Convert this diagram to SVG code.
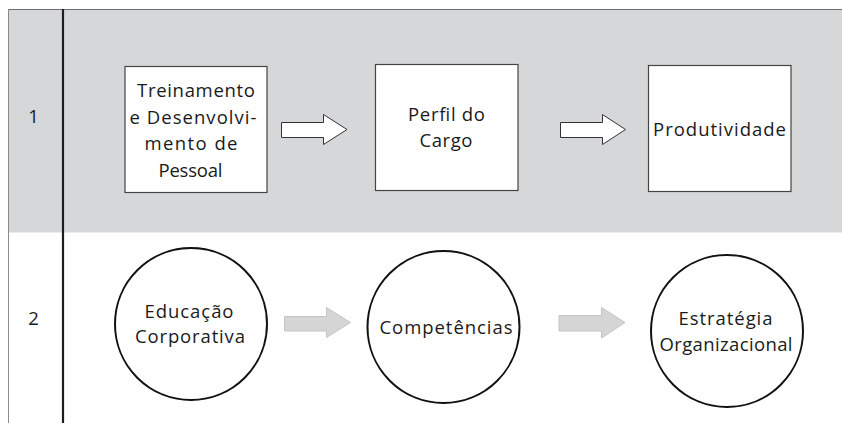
<svg xmlns="http://www.w3.org/2000/svg" width="842" height="423" viewBox="0 0 842 423">
<style>
text{font-family:"Open Sans","Liberation Sans",sans-serif;font-size:18.5px;fill:#1a1a1a;text-anchor:middle;}
.box{fill:#fff;stroke:#444;stroke-width:1.2;}
.circ{fill:#fff;stroke:#111;stroke-width:2;}
.harrow{fill:#fff;stroke:#333;stroke-width:1;}
.garrow{fill:#d5d5d5;stroke:#c4c4c4;stroke-width:1;}
</style>
<g id="lanes">
<rect x="8.5" y="9.5" width="834" height="223" fill="#d6d7d9"/>
<line x1="8" y1="9.5" x2="842" y2="9.5" stroke="#6e6e6e" stroke-width="1.2"/>
<line x1="8.5" y1="9" x2="8.5" y2="423" stroke="#8a8a8a" stroke-width="1"/>
<line x1="63" y1="9" x2="63" y2="423" stroke="#1e1e1e" stroke-width="2.2"/>
<text x="33.5" y="123">1</text>
<text x="33.5" y="325">2</text>
</g>
<g id="n1">
<rect class="box" x="125" y="66.5" width="142" height="126"/>
<text x="196" y="97" textLength="118" lengthAdjust="spacing">Treinamento</text>
<text x="193" y="123.5" textLength="127" lengthAdjust="spacing">e Desenvolvi-</text>
<text x="191" y="150" textLength="93" lengthAdjust="spacing">mento de</text>
<text x="190.5" y="176.5" textLength="64" lengthAdjust="spacing">Pessoal</text>
</g>
<g id="n2">
<rect class="box" x="375.5" y="64.5" width="142.5" height="126"/>
<text x="446.5" y="121" textLength="77" lengthAdjust="spacing">Perfil do</text>
<text x="446" y="147" textLength="53" lengthAdjust="spacing">Cargo</text>
</g>
<g id="n3">
<rect class="box" x="648.5" y="65.5" width="142.5" height="126"/>
<text x="719.5" y="135.5" textLength="133" lengthAdjust="spacing">Produtividade</text>
</g>
<g id="n4">
<circle class="circ" cx="191" cy="324" r="76"/>
<text x="189" y="317.5" textLength="89" lengthAdjust="spacing">Educação</text>
<text x="190" y="343" textLength="110" lengthAdjust="spacing">Corporativa</text>
</g>
<g id="n5">
<circle class="circ" cx="443.5" cy="327" r="76"/>
<text x="446" y="333.5" textLength="133" lengthAdjust="spacing">Competências</text>
</g>
<g id="n6">
<circle class="circ" cx="727" cy="331" r="76"/>
<text x="725.5" y="324.5" textLength="94" lengthAdjust="spacing">Estratégia</text>
<text x="726" y="350.5" textLength="133" lengthAdjust="spacing">Organizacional</text>
</g>
<g id="connectors">
<polygon class="harrow" points="281.5,122.5 323.5,122.5 323.5,114.5 347,129.5 323.5,144.5 323.5,137.5 281.5,137.5"/>
<polygon class="harrow" points="560.5,122.5 602.5,122.5 602.5,114.5 625.5,129.5 602.5,144.5 602.5,137.5 560.5,137.5"/>
<polygon class="garrow" points="284.5,316.5 326.5,316.5 326.5,307.5 350.5,322.5 326.5,337.5 326.5,331 284.5,331"/>
<polygon class="garrow" points="559,315.5 601.5,315.5 601.5,307.5 625,322.5 601.5,338 601.5,331 559,331"/>
</g>
</svg>
